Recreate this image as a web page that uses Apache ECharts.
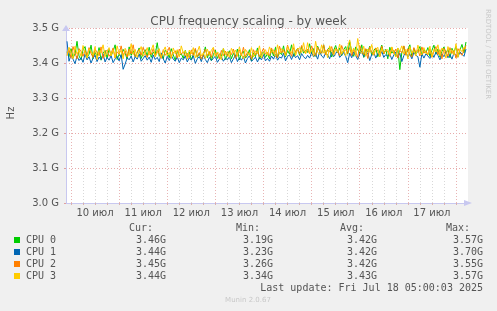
<!DOCTYPE html>
<html>
<head>
<meta charset="utf-8">
<script src="https://cdn.jsdelivr.net/npm/echarts@6/dist/echarts.min.js"></script>
<style>
  html, body { margin: 0; padding: 0; background: #f0f0f0; }
  #chart { width: 497px; height: 311px; }
</style>
</head>
<body>
<div id="chart"></div>
<script>
// hours since 10 jul 00:00, one sample per hour
var startHour = -2;
var stepHours = 1;
var dayLabels = ['10 июл', '11 июл', '12 июл', '13 июл', '14 июл', '15 июл', '16 июл', '17 июл'];
var yTicks = [3000, 3100, 3200, 3300, 3400, 3500];

var names = ['CPU 0', 'CPU 1', 'CPU 2', 'CPU 3'];
var colors = ['#00cc00', '#0066b3', '#ff8000', '#ffcc00'];

// MHz
var cpu0 = [
  3432,3418,3441,3415,3426,3462,3420,3409,3438,3447,3416,3425,3451,3412,3430,3419,3444,3408,3428,3436,
  3414,3440,3421,3433,3452,3410,3425,3417,3439,3428,3411,3446,3422,3435,3418,3429,3443,3413,3427,3438,
  3420,3445,3416,3431,3424,3458,3419,3426,3412,3437,3429,3415,3441,3423,3408,3434,3421,3427,3413,3436,
  3418,3432,3409,3425,3439,3416,3428,3411,3422,3446,3415,3430,3407,3424,3437,3413,3426,3419,3441,3410,
  3423,3435,3412,3428,3417,3440,3409,3426,3433,3414,3421,3438,3406,3429,3418,3443,3411,3425,3432,3416,
  3427,3412,3438,3420,3445,3415,3431,3424,3449,3418,3436,3425,3452,3419,3433,3441,3422,3447,3428,3437,
  3430,3455,3426,3441,3419,3448,3434,3428,3452,3423,3439,3445,3417,3436,3450,3429,3443,3421,3438,3447,
  3425,3461,3433,3419,3446,3438,3427,3452,3416,3440,3431,3448,3422,3436,3443,3418,3434,3451,3426,3439,
  3412,3445,3428,3436,3419,3442,3381,3430,3448,3424,3437,3452,3418,3441,3426,3433,3447,3421,3438,3429,
  3444,3419,3436,3451,3425,3440,3417,3433,3446,3428,3439,3415,3442,3430,3448,3421,3437,3453,3429,3460
];
var cpu1 = [
  3462,3405,3423,3411,3398,3420,3407,3415,3402,3426,3409,3418,3400,3414,3422,3404,3417,3410,3425,3403,
  3416,3408,3421,3401,3412,3419,3406,3424,3382,3397,3415,3409,3420,3403,3418,3411,3426,3405,3413,3421,
  3408,3417,3402,3423,3410,3416,3404,3429,3412,3400,3419,3407,3422,3411,3405,3418,3401,3414,3409,3420,
  3403,3415,3408,3421,3399,3412,3418,3404,3423,3410,3401,3416,3407,3413,3420,3402,3411,3417,3405,3414,
  3409,3418,3401,3412,3422,3404,3415,3408,3419,3400,3413,3421,3405,3410,3417,3403,3416,3409,3424,3406,
  3413,3405,3420,3411,3426,3408,3417,3414,3428,3406,3419,3423,3410,3425,3415,3421,3409,3427,3418,3412,
  3422,3414,3430,3417,3426,3411,3433,3420,3415,3429,3424,3412,3431,3418,3427,3435,3416,3423,3430,3419,
  3401,3428,3415,3432,3421,3410,3426,3434,3418,3423,3429,3407,3425,3431,3414,3427,3420,3433,3416,3424,
  3419,3426,3410,3423,3431,3415,3428,3404,3421,3433,3417,3425,3412,3430,3422,3418,3388,3427,3414,3426,
  3420,3413,3428,3416,3431,3422,3409,3426,3418,3433,3415,3424,3411,3429,3421,3417,3432,3425,3419,3440
];
var cpu2 = [
  3425,3438,3415,3447,3429,3412,3441,3433,3419,3436,3422,3444,3427,3416,3439,3431,3421,3446,3413,3430,
  3437,3419,3428,3443,3414,3432,3425,3449,3421,3435,3417,3440,3426,3452,3418,3431,3439,3422,3445,3428,
  3416,3433,3424,3441,3419,3436,3427,3413,3438,3422,3431,3445,3418,3429,3435,3414,3440,3425,3432,3420,
  3428,3415,3437,3422,3442,3418,3430,3411,3426,3439,3420,3433,3416,3441,3424,3429,3412,3436,3421,3434,
  3419,3432,3424,3440,3413,3428,3437,3420,3445,3417,3431,3426,3411,3438,3423,3435,3418,3429,3442,3425,
  3431,3420,3443,3427,3436,3415,3448,3429,3438,3424,3451,3433,3419,3444,3430,3441,3426,3450,3435,3428,
  3440,3426,3449,3432,3421,3445,3434,3428,3452,3423,3439,3431,3447,3425,3442,3436,3420,3450,3433,3438,
  3427,3444,3421,3439,3432,3416,3450,3435,3424,3441,3413,3446,3430,3422,3443,3434,3418,3448,3426,3437,
  3432,3419,3445,3427,3440,3414,3436,3429,3449,3422,3441,3425,3417,3444,3431,3438,3420,3446,3428,3435,
  3423,3440,3416,3433,3447,3424,3438,3412,3442,3430,3419,3444,3427,3435,3414,3441,3429,3422,3437,3450
];
var cpu3 = [
  3420,3445,3430,3412,3448,3425,3437,3419,3450,3428,3414,3441,3433,3422,3447,3410,3436,3429,3452,3418,
  3431,3444,3420,3438,3415,3449,3427,3436,3412,3442,3430,3421,3455,3424,3439,3416,3433,3447,3419,3428,
  3444,3423,3437,3452,3418,3429,3441,3415,3434,3446,3420,3431,3413,3443,3426,3438,3417,3449,3428,3435,
  3411,3437,3426,3444,3415,3432,3448,3420,3429,3413,3440,3423,3436,3445,3418,3431,3427,3409,3442,3424,
  3433,3416,3442,3428,3437,3419,3446,3425,3412,3439,3430,3421,3444,3417,3435,3427,3449,3414,3431,3438,
  3422,3446,3430,3438,3417,3452,3425,3441,3433,3420,3447,3436,3428,3455,3421,3439,3444,3430,3458,3426,
  3458,3427,3440,3419,3462,3431,3424,3452,3428,3437,3415,3449,3433,3422,3441,3430,3454,3425,3438,3420,
  3447,3466,3429,3443,3421,3470,3434,3427,3448,3419,3440,3431,3453,3424,3437,3445,3418,3442,3429,3436,
  3438,3421,3446,3430,3417,3443,3434,3449,3425,3439,3412,3447,3428,3436,3420,3451,3432,3423,3444,3427,
  3426,3448,3417,3439,3431,3452,3420,3443,3435,3414,3447,3429,3438,3423,3455,3416,3441,3432,3445,3440
];

var curVals = ['3.46G', '3.44G', '3.45G', '3.44G'];
var minVals = ['3.19G', '3.23G', '3.26G', '3.34G'];
var avgVals = ['3.42G', '3.42G', '3.42G', '3.43G'];
var maxVals = ['3.57G', '3.70G', '3.55G', '3.57G'];
var lastUpdate = 'Last update: Fri Jul 18 05:00:03 2025';

var allData = [cpu0, cpu1, cpu2, cpu3];

// grid lines every 6 hours, labels at noon
var gridHours = [];
for (var h = 0; h <= 192; h += 6) gridHours.push(h);
var labelHours = dayLabels.map(function (d, i) { return i * 24 + 12; });

var mono = 'DejaVu Sans Mono';
var sans = 'DejaVu Sans';
var txtColor = '#555';

var series = allData.map(function (arr, k) {
    return {
        name: names[k],
        type: 'line',
        showSymbol: false,
        animation: false,
        lineStyle: { color: colors[k], width: 1 },
        itemStyle: { color: colors[k] },
        data: arr.map(function (v, i) { return [startHour + i * stepHours, v]; })
    };
});

// legend table
var graphics = [];
var colX = { cur: 166, min: 273, avg: 377, max: 483 };
graphics.push({ type: 'text', style: { x: 153, y: 228, text: 'Cur:', font: '10px ' + mono, fill: txtColor, textAlign: 'right', textVerticalAlign: 'middle' } });
graphics.push({ type: 'text', style: { x: 260, y: 228, text: 'Min:', font: '10px ' + mono, fill: txtColor, textAlign: 'right', textVerticalAlign: 'middle' } });
graphics.push({ type: 'text', style: { x: 364, y: 228, text: 'Avg:', font: '10px ' + mono, fill: txtColor, textAlign: 'right', textVerticalAlign: 'middle' } });
graphics.push({ type: 'text', style: { x: 470, y: 228, text: 'Max:', font: '10px ' + mono, fill: txtColor, textAlign: 'right', textVerticalAlign: 'middle' } });
names.forEach(function (n, k) {
    var y = 240 + k * 12;
    graphics.push({ type: 'rect', shape: { x: 14, y: y - 3, width: 6, height: 6 }, style: { fill: colors[k] } });
    graphics.push({ type: 'text', style: { x: 26, y: y, text: n, font: '10px ' + mono, fill: txtColor, textVerticalAlign: 'middle' } });
    [['cur', curVals], ['min', minVals], ['avg', avgVals], ['max', maxVals]].forEach(function (c) {
        graphics.push({ type: 'text', style: { x: colX[c[0]], y: y, text: c[1][k], font: '10px ' + mono, fill: txtColor, textAlign: 'right', textVerticalAlign: 'middle' } });
    });
});
graphics.push({ type: 'text', style: { x: 483, y: 288, text: lastUpdate, font: '10px ' + mono, fill: txtColor, textAlign: 'right', textVerticalAlign: 'middle' } });
graphics.push({ type: 'text', style: { x: 248, y: 300, text: 'Munin 2.0.67', font: '7px ' + sans, fill: '#c8c8c8', textAlign: 'center', textVerticalAlign: 'middle' } });
graphics.push({ type: 'text', x: 11, y: 113, rotation: Math.PI / 2, style: { x: 0, y: 0, text: 'Hz', font: '10px ' + sans, fill: txtColor, textAlign: 'center', textVerticalAlign: 'middle' } });
graphics.push({ type: 'text', x: 488, y: 54, rotation: -Math.PI / 2, style: { x: 0, y: 0, text: 'RRDTOOL / TOBI OETIKER', font: '7px ' + sans, fill: '#c8c8c8', textAlign: 'center', textVerticalAlign: 'middle' } });

var chart = echarts.init(document.getElementById('chart'), null, { renderer: 'canvas' });
var option = {
    backgroundColor: '#f0f0f0',
    animation: false,
    title: {
        text: 'CPU frequency scaling - by week',
        left: 'center',
        top: 11,
        textStyle: { fontFamily: sans, fontSize: 12, fontWeight: 'normal', color: txtColor }
    },
    grid: {
        left: 66, right: 29, top: 28, bottom: 108,
        show: true, backgroundColor: '#ffffff', borderWidth: 0
    },
    xAxis: {
        type: 'value',
        min: -2.5,
        max: 198,
        axisLine: { show: true, onZero: false, lineStyle: { color: '#c8c8f0' }, symbol: ['none', 'triangle'], symbolSize: [6, 8] },
        axisTick: { show: true, customValues: gridHours, length: 2, lineStyle: { color: '#d8b0b0' } },
        axisLabel: {
            customValues: labelHours,
            margin: 5,
            fontFamily: sans, fontSize: 10, color: txtColor,
            formatter: function (v) { return dayLabels[Math.round((v - 12) / 24)]; }
        },
        splitLine: { show: true, lineStyle: { color: ['#e8b4b4', '#d8d8d8', '#d8d8d8', '#d8d8d8'], type: [1, 2], width: 1 } }
    },
    yAxis: {
        type: 'value',
        min: yTicks[0],
        max: yTicks[yTicks.length - 1],
        interval: 100,
        axisLine: { show: true, onZero: false, lineStyle: { color: '#c8c8f0' }, symbol: ['none', 'triangle'], symbolSize: [8, 6] },
        axisTick: { show: true, length: 2, lineStyle: { color: '#e0a0a0' } },
        axisLabel: {
            margin: 7,
            fontFamily: sans, fontSize: 10, color: txtColor,
            formatter: function (v) { return (v / 1000).toFixed(1) + ' G'; }
        },
        splitLine: { show: true, lineStyle: { color: '#e8aaaa', type: [1, 2], width: 1 } }
    },
    graphic: graphics,
    series: series
};
chart.setOption(option);
</script>
</body>
</html>
